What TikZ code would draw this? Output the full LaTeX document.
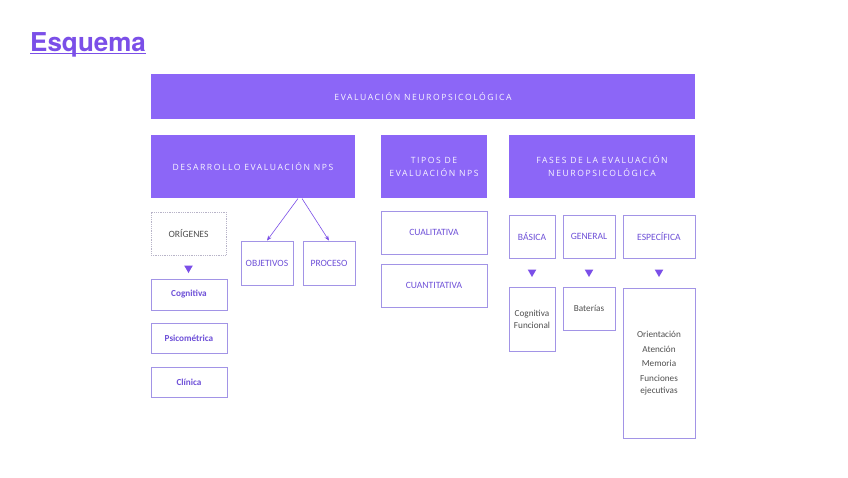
\documentclass[tikz,border=0pt]{standalone}
\usepackage{fontspec}
\setmainfont{Carlito}
\newfontfamily\hdr[LetterSpace=18]{Open Sans}
\newfontfamily\ttlfont{TeX Gyre Heros}
\usetikzlibrary{shapes.geometric,arrows.meta}
\definecolor{pur}{HTML}{8C66F7}
\definecolor{ttlc}{HTML}{7B4FE8}
\definecolor{bord}{HTML}{A294E6}
\definecolor{txp}{HTML}{6E50D8}
\definecolor{txg}{HTML}{505050}
\definecolor{hdrt}{HTML}{F8F6FF}
\definecolor{dotc}{HTML}{B8B4C8}
\begin{document}
\begin{tikzpicture}[x=1pt,y=-1pt,
  head/.style={fill=pur, draw=none, inner sep=0pt, text=hdrt, font=\hdr\fontsize{8.6}{13}\selectfont, align=center},
  sbox/.style={draw=bord, line width=0.8pt, fill=white, inner sep=0pt, font=\fontsize{9.6}{11}\selectfont, text=txp, align=center},
  gbox/.style={sbox, text=txg, font=\fontsize{9.2}{14.7}\selectfont},
  bbox/.style={sbox, font=\bfseries\fontsize{9.2}{10}\selectfont},
  tri/.style={regular polygon, regular polygon sides=3, shape border rotate=180, fill=ttlc, draw=none, inner sep=0pt, minimum size=10pt},
  conn/.style={draw=ttlc, line width=0.6pt, -{Stealth[length=5pt,width=4pt]}}
]
\useasboundingbox (0,0) rectangle (848,477);
\fill[white] (0,0) rectangle (848,477);

% title
\node[anchor=base west, inner sep=0pt, text=ttlc, font=\ttlfont\bfseries\fontsize{26}{30}\selectfont] (ttl) at (30,51) {Esquema};
\draw[ttlc, line width=1.8pt] ([yshift=-2.5pt]ttl.base west) -- ([yshift=-2.5pt]ttl.base east);

% headers
\node[head, minimum width=544pt, minimum height=45pt] (top) at (423,96.5) {EVALUACIÓN NEUROPSICOLÓGICA};
\node[head, minimum width=204pt, minimum height=63pt] (desa) at (253,166.5) {DESARROLLO EVALUACIÓN NPS};
\node[head, minimum width=106pt, minimum height=63pt] (tipos) at (434,166.5) {TIPOS DE\\EVALUACIÓN NPS};
\node[head, minimum width=186pt, minimum height=63pt] (fases) at (602,166.5) {FASES DE LA EVALUACIÓN\\NEUROPSICOLÓGICA};

% desarrollo column
\node[sbox, draw=dotc, densely dotted, text=txg, minimum width=75pt, minimum height=43pt] (orig) at (188.5,233.5) {ORÍGENES};
\node[tri] (t0) at (188.5,268) {};
\node[bbox, minimum width=76pt, minimum height=31pt] (cog) at (189,294.5) {Cognitiva};
\node[bbox, minimum width=76pt, minimum height=30pt] (psi) at (189,338) {Psicométrica};
\node[bbox, minimum width=76pt, minimum height=30pt] (cli) at (189,382) {Clínica};
\node[sbox, minimum width=52pt, minimum height=44pt] (obj) at (267,263) {OBJETIVOS};
\node[sbox, minimum width=52pt, minimum height=44pt] (proc) at (329,263) {PROCESO};
\coordinate (s1) at (298,198.5);
\coordinate (s2) at (302,198.5);
\draw[conn] (s1) -- (obj.north);
\draw[conn] (s2) -- (proc.north);

% tipos column
\node[sbox, minimum width=106pt, minimum height=43pt] (cual) at (434,232.5) {CUALITATIVA};
\node[sbox, minimum width=106pt, minimum height=43pt] (cuan) at (434,285.5) {CUANTITATIVA};

% fases column
\node[sbox, minimum width=46pt, minimum height=43pt] (bas) at (532,236.5) {BÁSICA};
\node[sbox, minimum width=52pt, minimum height=43pt] (gen) at (589,236.5) {GENERAL};
\node[sbox, minimum width=72pt, minimum height=43pt] (esp) at (659,236.5) {ESPECÍFICA};
\node[tri] (t1) at (532,272) {};
\node[tri] (t2) at (589,272) {};
\node[tri] (t3) at (659,272) {};
\node[gbox, font=\fontsize{9.2}{12}\selectfont, minimum width=46pt, minimum height=64pt] (cf) at (532,319) {Cognitiva\\Funcional};
\node[gbox, minimum width=52pt, minimum height=43pt] (bat) at (589,308.5) {Baterías};
\node[gbox, minimum width=72pt, minimum height=150pt] (big) at (659,363) {Orientación\\Atención\\Memoria\\Funciones\\[-2.7pt]ejecutivas};
\end{tikzpicture}
\end{document}
